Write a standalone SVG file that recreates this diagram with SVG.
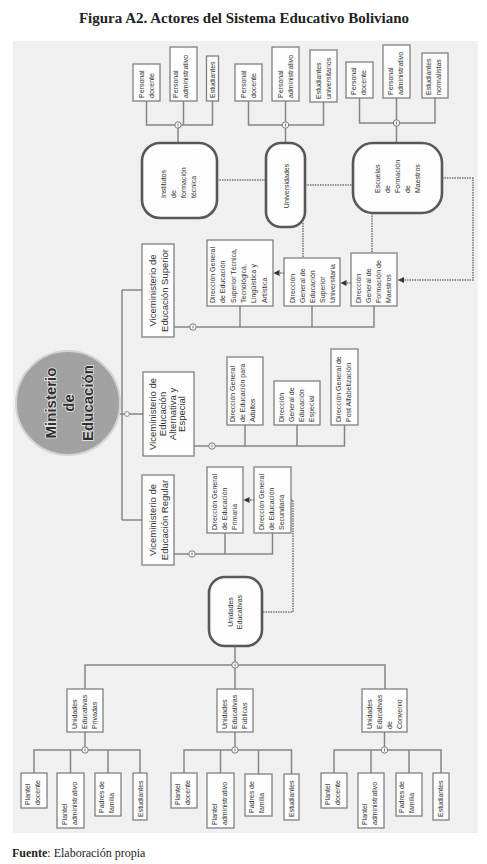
<svg xmlns="http://www.w3.org/2000/svg" xmlns:xlink="http://www.w3.org/1999/xlink" width="487" height="864" viewBox="0 0 487 864">
<style>
.t{font-family:"Liberation Sans",Arial,sans-serif;font-size:7px;fill:#333}
.v{font-size:9.5px}
.m{text-anchor:middle}
.bx{fill:#fdfdfd;stroke:#808080;stroke-width:1.3}
.rb{fill:#fdfdfd;stroke:#585858;stroke-width:2.6}
.ln{fill:none;stroke:#858585;stroke-width:1.5}
.dt{fill:none;stroke:#6a6a6a;stroke-width:1.4;stroke-dasharray:1.4 1.1}
.jn{fill:#fff;stroke:#777;stroke-width:1}
</style>
<defs>
<marker id="ah" viewBox="0 0 10 10" refX="10" refY="5" markerWidth="6" markerHeight="6" markerUnits="userSpaceOnUse" orient="auto"><path d="M0,0 L10,5 L0,10 z" fill="#333"/></marker>
<g id="j"><circle class="jn" r="3.2"/><line x1="0" y1="-1.5" x2="0" y2="1.5" stroke="#666" stroke-width="0.9"/></g>
</defs>
<rect width="487" height="864" fill="#fff"/>
<text x="244" y="23" text-anchor="middle" font-family="'Liberation Serif','Times New Roman',serif" font-size="15" font-weight="bold" fill="#222">Figura A2. Actores del Sistema Educativo Boliviano</text>
<rect x="13" y="41" width="465" height="792" fill="#f0f0f0"/>

<g id="connectors">
<path class="ln" d="M146.5,101 V125 H212.5 V101 M183.5,101 V125 M178,125 V143"/>
<path class="ln" d="M248.5,101 V125 H323.5 V102 M285.5,101 V125 M285.5,125 V143"/>
<path class="ln" d="M359.5,98 V123 H435 V98 M396.5,98 V143"/>
<use xlink:href="#j" x="178" y="125"/>
<use xlink:href="#j" x="285.5" y="125"/>
<use xlink:href="#j" x="396.5" y="123"/>
<path class="dt" d="M217,180 H266"/>
<path class="dt" d="M305,185 H353"/>
<path class="dt" d="M442,178 H473 V280 H398" marker-end="url(#ah)"/>
<path class="dt" d="M372,213 V253"/>
<path class="dt" d="M303,223 V258"/>
<path class="dt" d="M284,273 H273.5" marker-end="url(#ah)"/>
<path class="dt" d="M351,283 H340.5" marker-end="url(#ah)"/>
<path class="ln" d="M174,327 H374 V306 M240,306 V327 M312,306 V327"/>
<use xlink:href="#j" x="193" y="327"/>
<path class="ln" d="M122,290 V520 M122,290 H142 M120,414 H143 M122,520 H142"/>
<circle cx="127" cy="414" r="2.4" fill="#fff" stroke="#888" stroke-width="1"/>
<path class="ln" d="M194,446 H344.5 V425 M245,425 V446 M297,425 V446"/>
<use xlink:href="#j" x="212" y="446"/>
<path class="ln" d="M174,554 H272.5 V533 M225,533 V554"/>
<use xlink:href="#j" x="192" y="554"/>
<path class="dt" d="M254,500 H243.5" marker-end="url(#ah)"/>
<path class="dt" d="M291,500 H293 V612 H262"/>
<path class="ln" d="M235,646 V665 M85,689 V665 H385 V689 M235,665 V689"/>
<use xlink:href="#j" x="235" y="665"/>
<path class="ln" d="M85,732 V750 M34,773 V750 H140 V773 M70.5,750 V773 M108,750 V773"/>
<path class="ln" d="M235,732 V750 M184,773 V750 H291.5 V774 M220.5,750 V773 M258.5,750 V774"/>
<path class="ln" d="M384.5,732 V750 M334,773 V750 H441 V773 M371,750 V773 M409,750 V773"/>
<use xlink:href="#j" x="85" y="750"/>
<use xlink:href="#j" x="235" y="750"/>
<use xlink:href="#j" x="384.5" y="750"/>
</g>

<g id="inst-docente"><rect class="bx" x="133" y="64" width="27" height="37"/><text class="t" transform="translate(143.5,98) rotate(-90)"><tspan x="0">Personal</tspan><tspan x="0" dy="10">docente</tspan></text></g>
<g id="inst-admin"><rect class="bx" x="170" y="47" width="27" height="54"/><text class="t" transform="translate(177.5,98) rotate(-90)"><tspan x="0">Personal</tspan><tspan x="0" dy="10">administrativo</tspan></text></g>
<g id="inst-estud"><rect class="bx" x="206.5" y="56" width="12" height="45"/><text class="t" transform="translate(214.8,98) rotate(-90)">Estudiantes</text></g>
<g id="univ-docente"><rect class="bx" x="235" y="64" width="27" height="37"/><text class="t" transform="translate(245.5,98) rotate(-90)"><tspan x="0">Personal</tspan><tspan x="0" dy="10">docente</tspan></text></g>
<g id="univ-admin"><rect class="bx" x="272" y="47" width="27" height="54"/><text class="t" transform="translate(282.5,98) rotate(-90)"><tspan x="0">Personal</tspan><tspan x="0" dy="10">administrativo</tspan></text></g>
<g id="univ-estud"><rect class="bx" x="310" y="50" width="27" height="52"/><text class="t" transform="translate(320.5,99) rotate(-90)"><tspan x="0">Estudiantes</tspan><tspan x="0" dy="10">universitarios</tspan></text></g>
<g id="esc-docente"><rect class="bx" x="346" y="62" width="27" height="36"/><text class="t" transform="translate(355.5,95) rotate(-90)"><tspan x="0">Personal</tspan><tspan x="0" dy="10">docente</tspan></text></g>
<g id="esc-admin"><rect class="bx" x="383" y="45" width="27" height="53"/><text class="t" transform="translate(392.5,95) rotate(-90)"><tspan x="0">Personal</tspan><tspan x="0" dy="10">administrativo</tspan></text></g>
<g id="esc-estud"><rect class="bx" x="422" y="53" width="26" height="45"/><text class="t" transform="translate(430.5,95) rotate(-90)"><tspan x="0">Estudiantes</tspan><tspan x="0" dy="10">normalistas</tspan></text></g>

<g id="institutos"><rect class="rb" x="142" y="143" width="75" height="75" rx="18"/><text class="t" transform="translate(165.5,198) rotate(-90)"><tspan x="0">Institutos</tspan><tspan x="0" dy="10">de</tspan><tspan x="0" dy="10">formación</tspan><tspan x="0" dy="10">técnica</tspan></text></g>
<g id="universidades"><rect class="rb" x="266" y="143" width="39" height="84" rx="15"/><text class="t m" transform="translate(289,186) rotate(-90)">Universidades</text></g>
<g id="escuelas"><rect class="rb" x="353" y="143" width="89" height="70" rx="20"/><text class="t" transform="translate(379.5,193) rotate(-90)"><tspan x="0">Escuelas</tspan><tspan x="0" dy="10">de</tspan><tspan x="0" dy="10">Formación</tspan><tspan x="0" dy="10">de</tspan><tspan x="0" dy="10">Maestros</tspan></text></g>

<g id="dg-tecnica"><rect class="bx" x="207" y="240" width="66" height="66"/><text class="t" transform="translate(215,303) rotate(-90)"><tspan x="0">Dirección General</tspan><tspan x="0" dy="10.3">de Educación</tspan><tspan x="0" dy="10.3">Superior Técnica,</tspan><tspan x="0" dy="10.3">Tecnológica,</tspan><tspan x="0" dy="10.3">Lingüística y</tspan><tspan x="0" dy="10.3">Artística</tspan></text></g>
<g id="dg-universitaria"><rect class="bx" x="284" y="258" width="56" height="48"/><text class="t" transform="translate(294.5,303) rotate(-90)"><tspan x="0">Dirección</tspan><tspan x="0" dy="10">General de</tspan><tspan x="0" dy="10">Educación</tspan><tspan x="0" dy="10">Superior</tspan><tspan x="0" dy="10">Universitaria</tspan></text></g>
<g id="dg-maestros"><rect class="bx" x="351" y="253" width="46" height="53"/><text class="t" transform="translate(360.5,303) rotate(-90)"><tspan x="0">Dirección</tspan><tspan x="0" dy="10">General de</tspan><tspan x="0" dy="10">Formación de</tspan><tspan x="0" dy="10">Maestros</tspan></text></g>

<g id="vice-superior"><rect class="bx" x="142" y="244" width="32" height="93"/><text class="t v m" transform="translate(156.3,290.5) rotate(-90)"><tspan x="0">Viceministerio de</tspan><tspan x="0" dy="12">Educación Superior</tspan></text></g>

<g id="ministerio"><circle cx="68" cy="403" r="52" fill="#a2a2a2" stroke="#d4d4d4" stroke-width="2"/><text transform="translate(55.5,403) rotate(-90)" text-anchor="middle" font-family="'Liberation Sans',Arial,sans-serif" font-size="15" font-weight="bold" fill="#2e2e2e" stroke="#ececec" stroke-width="1.5" paint-order="stroke"><tspan x="0">Ministerio</tspan><tspan x="0" dy="18.5">de</tspan><tspan x="0" dy="18.5">Educación</tspan></text></g>

<g id="vice-alternativa"><rect class="bx" x="143" y="372" width="51" height="84"/><text class="t v m" transform="translate(156.2,414) rotate(-90)"><tspan x="0">Viceministerio de</tspan><tspan x="0" dy="9.7">Educación</tspan><tspan x="0" dy="9.7">Alternativa y</tspan><tspan x="0" dy="9.7">Especial</tspan></text></g>
<g id="dg-adultos"><rect class="bx" x="227" y="357" width="36" height="68"/><text class="t" transform="translate(235.3,422) rotate(-90)"><tspan x="0">Dirección General</tspan><tspan x="0" dy="10">de Educación para</tspan><tspan x="0" dy="10">Adultos</tspan></text></g>
<g id="dg-especial"><rect class="bx" x="274" y="381" width="46" height="44"/><text class="t" transform="translate(283.5,422) rotate(-90)"><tspan x="0">Dirección</tspan><tspan x="0" dy="10.3">General de</tspan><tspan x="0" dy="10.3">Educación</tspan><tspan x="0" dy="10.3">Especial</tspan></text></g>
<g id="dg-post"><rect class="bx" x="331" y="349" width="27" height="76"/><text class="t" transform="translate(340.5,422) rotate(-90)"><tspan x="0">Dirección General de</tspan><tspan x="0" dy="10">Post Alfabetización</tspan></text></g>

<g id="vice-regular"><rect class="bx" x="142" y="475" width="32" height="90"/><text class="t v m" transform="translate(156.3,520) rotate(-90)"><tspan x="0">Viceministerio de</tspan><tspan x="0" dy="12">Educación Regular</tspan></text></g>
<g id="dg-primaria"><rect class="bx" x="207" y="467" width="36" height="66"/><text class="t" transform="translate(217.3,530) rotate(-90)"><tspan x="0">Dirección General</tspan><tspan x="0" dy="10">de Educación</tspan><tspan x="0" dy="10">Primaria</tspan></text></g>
<g id="dg-secundaria"><rect class="bx" x="254" y="467" width="37" height="66"/><text class="t" transform="translate(264.3,530) rotate(-90)"><tspan x="0">Dirección General</tspan><tspan x="0" dy="10">de Educación</tspan><tspan x="0" dy="10">Secundaria</tspan></text></g>

<g id="unidades"><rect class="rb" x="209" y="577" width="53" height="69" rx="16"/><text class="t m" transform="translate(233,612) rotate(-90)"><tspan x="0">Unidades</tspan><tspan x="0" dy="9">Educativas</tspan></text></g>
<g id="ue-privadas"><rect class="bx" x="67" y="689" width="36" height="43"/><text class="t" transform="translate(77.3,729) rotate(-90)"><tspan x="0">Unidades</tspan><tspan x="0" dy="10">Educativas</tspan><tspan x="0" dy="10">Privadas</tspan></text></g>
<g id="ue-publicas"><rect class="bx" x="217" y="689" width="36" height="43"/><text class="t" transform="translate(227.3,729) rotate(-90)"><tspan x="0">Unidades</tspan><tspan x="0" dy="10">Educativas</tspan><tspan x="0" dy="10">Públicas</tspan></text></g>
<g id="ue-convenio"><rect class="bx" x="362" y="689" width="45" height="43"/><text class="t" transform="translate(372.3,729) rotate(-90)"><tspan x="0">Unidades</tspan><tspan x="0" dy="10">Educativas</tspan><tspan x="0" dy="10">de</tspan><tspan x="0" dy="10">Convenio</tspan></text></g>

<g id="priv-docente"><rect class="bx" x="21" y="773" width="26" height="35"/><text class="t" transform="translate(30.3,805) rotate(-90)"><tspan x="0">Plantel</tspan><tspan x="0" dy="10">docente</tspan></text></g>
<g id="priv-admin"><rect class="bx" x="57" y="773" width="27" height="55"/><text class="t" transform="translate(67.3,825) rotate(-90)"><tspan x="0">Plantel</tspan><tspan x="0" dy="10">administrativo</tspan></text></g>
<g id="priv-padres"><rect class="bx" x="95" y="773" width="26" height="43"/><text class="t" transform="translate(104.3,813) rotate(-90)"><tspan x="0">Padres de</tspan><tspan x="0" dy="10">familia</tspan></text></g>
<g id="priv-estud"><rect class="bx" x="133" y="773" width="14" height="47"/><text class="t" transform="translate(142.5,817) rotate(-90)">Estudiantes</text></g>
<g id="pub-docente"><rect class="bx" x="171" y="773" width="26" height="35"/><text class="t" transform="translate(180.3,805) rotate(-90)"><tspan x="0">Plantel</tspan><tspan x="0" dy="10">docente</tspan></text></g>
<g id="pub-admin"><rect class="bx" x="207" y="773" width="27" height="55"/><text class="t" transform="translate(217.3,825) rotate(-90)"><tspan x="0">Plantel</tspan><tspan x="0" dy="10">administrativo</tspan></text></g>
<g id="pub-padres"><rect class="bx" x="245" y="774" width="27" height="42"/><text class="t" transform="translate(254.3,813) rotate(-90)"><tspan x="0">Padres de</tspan><tspan x="0" dy="10">familia</tspan></text></g>
<g id="pub-estud"><rect class="bx" x="284" y="774" width="15" height="46"/><text class="t" transform="translate(293.8,817) rotate(-90)">Estudiantes</text></g>
<g id="conv-docente"><rect class="bx" x="321" y="773" width="26" height="35"/><text class="t" transform="translate(330.3,805) rotate(-90)"><tspan x="0">Plantel</tspan><tspan x="0" dy="10">docente</tspan></text></g>
<g id="conv-admin"><rect class="bx" x="358" y="773" width="26" height="55"/><text class="t" transform="translate(367.3,825) rotate(-90)"><tspan x="0">Plantel</tspan><tspan x="0" dy="10">administrativo</tspan></text></g>
<g id="conv-padres"><rect class="bx" x="396" y="773" width="26" height="43"/><text class="t" transform="translate(404.3,813) rotate(-90)"><tspan x="0">Padres de</tspan><tspan x="0" dy="10">familia</tspan></text></g>
<g id="conv-estud"><rect class="bx" x="433" y="773" width="16" height="47"/><text class="t" transform="translate(443.3,817) rotate(-90)">Estudiantes</text></g>

<text x="12" y="857" font-family="'Liberation Serif','Times New Roman',serif" font-size="12" fill="#222"><tspan font-weight="bold">Fuente</tspan>: Elaboración propia</text>
</svg>
